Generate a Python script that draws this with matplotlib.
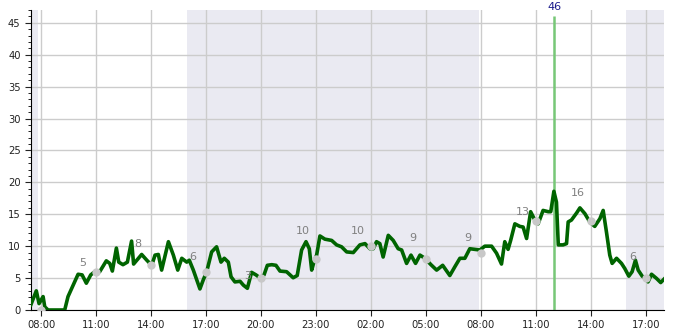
import matplotlib
matplotlib.use("Agg")
import matplotlib.pyplot as plt
import matplotlib.dates as mdates
from matplotlib.ticker import MultipleLocator
from datetime import datetime, timedelta

# horas desde las 08:00 del primer dia
t0 = datetime(2024, 1, 1, 8, 0)

hrs = [-0.56, -0.26, -0.11, 0.11, 0.20, 0.38, 1.29, 1.47, 1.75, 2.02, 2.24, 2.47, 2.71, 2.93,
       3.20, 3.56, 3.75, 3.89, 4.11, 4.24, 4.47, 4.71, 4.94, 5.05, 5.49, 5.77, 6.04, 6.22,
       6.40, 6.58, 6.95, 7.22, 7.46, 7.68, 7.95, 8.09, 8.31, 8.67, 8.85, 9.04, 9.31, 9.58,
       9.82, 10.00, 10.22, 10.37, 10.58, 10.86, 11.04, 11.26, 11.49, 11.73, 11.99, 12.17,
       12.35, 12.59, 12.82, 13.04, 13.40, 13.76, 13.98, 14.22, 14.46, 14.64, 14.77, 14.89,
       15.04, 15.22, 15.49, 15.86, 16.13, 16.40, 16.68, 17.04, 17.40, 17.68, 17.95, 18.13,
       18.31, 18.49, 18.67, 18.95, 19.22, 19.49, 19.68, 19.95, 20.19, 20.44, 20.68, 20.95,
       21.28, 21.59, 21.92, 22.31, 22.59, 22.86, 23.13, 23.40, 23.68, 23.95, 24.22, 24.59,
       24.86, 25.13, 25.31, 25.49, 25.63, 25.86, 26.13, 26.31, 26.50, 26.72, 26.95, 27.13,
       27.40, 27.68, 27.82, 27.99, 28.13, 28.23, 28.49, 28.68, 28.77, 28.95, 29.23, 29.41,
       29.68, 29.95, 30.22, 30.50, 30.68, 30.86, 31.04, 31.17, 31.41, 31.68, 31.86, 32.08,
       32.26, 32.44, 32.59, 32.81, 32.99, 33.13, 33.32, 33.59, 33.82, 34.04]
viento = [0.8, 3.0, 1.0, 2.1, 0.5, 0.0, 0.0, 2.1, 3.9, 5.6, 5.5, 4.2, 5.5, 6.0,
          6.0, 7.7, 7.3, 6.1, 9.7, 7.5, 7.1, 7.5, 10.8, 7.2, 8.7, 7.8, 7.0, 8.6,
          8.7, 6.25, 10.7, 8.6, 6.25, 8.1, 7.5, 7.8, 6.25, 3.3, 4.7, 6.0, 9.1, 9.9,
          7.5, 8.1, 7.5, 5.2, 4.4, 4.5, 3.9, 3.4, 5.9, 5.5, 4.95, 5.5,
          7.0, 7.1, 7.0, 6.1, 6.0, 5.05, 5.4, 9.4, 10.7, 9.6, 6.25, 7.5,
          8.6, 11.6, 11.1, 10.9, 10.2, 9.9, 9.1, 9.0, 10.2, 10.4, 9.6, 9.6,
          10.7, 10.4, 8.3, 11.7, 10.9, 9.6, 9.4, 7.3, 8.6, 7.3, 8.6, 8.1,
          7.1, 6.25, 7.0, 5.4, 6.8, 8.1, 8.1, 9.6, 9.5, 9.4, 10.0, 10.0,
          8.9, 7.2, 10.7, 9.5, 10.9, 13.5, 13.1, 13.0, 11.2, 15.4, 14.1, 13.5,
          15.6, 15.4, 15.4, 18.6, 16.9, 10.2, 10.2, 10.4, 13.8, 14.1, 15.2, 16.0,
          15.1, 13.8, 13.1, 14.3, 15.6, 12.2, 8.6, 7.3, 8.1, 7.3, 6.5, 5.3,
          6.0, 7.8, 6.25, 5.3, 4.95, 4.4, 5.6, 4.95, 4.3, 4.95]

# puntos cada 3 horas y sus etiquetas
pto_hrs = [0, 3, 6, 9, 12, 15, 18, 21, 24, 27, 30, 33]
pto_val = [0, 6, 7, 6, 5, 8, 10, 8, 9, 14, 14, 5]
etq_hrs = [3, 6, 9, 12, 15, 18, 21, 24, 27, 30, 33]
etq_val = [5, 8, 6, 3, 10, 10, 9, 9, 13, 16, 6]

# noches (inicio, fin) en horas
noches = [(-0.6, -0.18), (7.97, 23.9), (31.9, 34.5)]

# maximo
max_hr = 28
max_val = 46

h = lambda x: t0 + timedelta(hours=x)

fig = plt.figure(figsize=(6.85, 3.3), dpi=100)
ax = fig.add_axes([31/685, 20/330, 633/685, 300/330])

for a, b in noches:
    ax.axvspan(h(a), h(b), color="#eaeaf2", lw=0, zorder=0)

ax.grid(True, color="#cccccc", lw=1, zorder=1)
ax.set_axisbelow(True)

ax.plot([h(x) for x in hrs], viento, color="#006400", lw=2.6, zorder=3)
ax.plot([h(x) for x in pto_hrs], pto_val, "o", color="#c8c8c8", ms=6, mec="none", zorder=4)
for x, v in zip(etq_hrs, etq_val):
    ax.text(h(x - 0.73), v + 2.3, str(v), color="#808080", fontsize=8,
            ha="center", va="center", zorder=5)

ax.vlines(h(max_hr), 0, max_val, color="#77c777", lw=1.8, zorder=2)
ax.annotate(str(max_val), (h(max_hr), max_val), xytext=(0, 6.5), textcoords="offset points",
            color="#1a1a8c", fontsize=8, ha="center", va="center", annotation_clip=False)

ax.set_xlim(h(-0.55), h(34.0))
ax.set_ylim(0, 47)
ax.xaxis.set_major_locator(mdates.HourLocator(byhour=[2, 5, 8, 11, 14, 17, 20, 23]))
ax.xaxis.set_major_formatter(mdates.DateFormatter("%H:%M"))
ax.yaxis.set_major_locator(MultipleLocator(5))
ax.yaxis.set_minor_locator(MultipleLocator(1))
ax.tick_params(labelsize=7.2, colors="#222222", length=4)
ax.tick_params(axis="y", which="minor", length=2.5)

for s in ["top", "right"]:
    ax.spines[s].set_visible(False)

plt.savefig("out.png", dpi=100)
